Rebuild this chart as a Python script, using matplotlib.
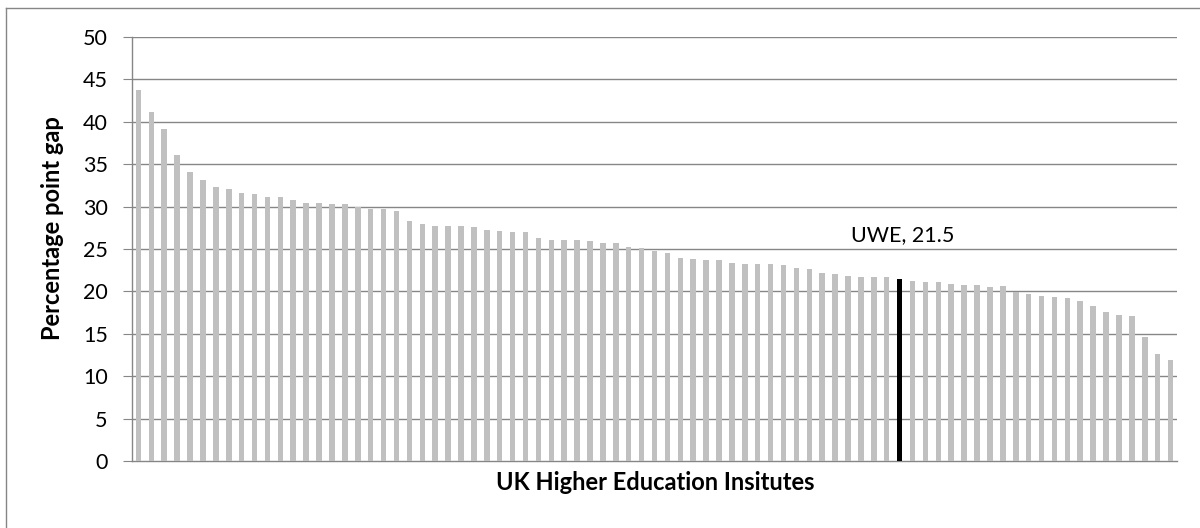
import matplotlib
matplotlib.use("Agg")
import matplotlib.pyplot as plt
from matplotlib.lines import Line2D

plt.rcParams['font.family'] = ['Lato', 'DejaVu Sans']

values = [43.75, 41.16, 39.1, 36.05, 34.04, 33.1, 32.35, 32.04, 31.64, 31.45,
          31.13, 31.13, 30.78, 30.46, 30.46, 30.34, 30.34, 29.92, 29.72, 29.68,
          29.44, 28.34, 27.99, 27.75, 27.75, 27.75, 27.55, 27.24, 27.12, 26.96,
          26.96, 26.34, 26.02, 26.02, 26.02, 25.94, 25.75, 25.67, 25.24, 25.16,
          24.8, 24.55, 23.97, 23.78, 23.66, 23.66, 23.39, 23.27, 23.19, 23.19,
          23.07, 22.8, 22.64, 22.2, 22.05, 21.85, 21.7, 21.7, 21.7, 21.5,
          21.2, 21.07, 21.07, 20.87, 20.75, 20.75, 20.56, 20.6, 19.89, 19.69,
          19.46, 19.34, 19.18, 18.87, 18.28, 17.57, 17.25, 17.06, 14.58, 12.58,
          11.87]
highlight_index = 59
highlight_label = "UWE, 21.5"
yticks = [0, 5, 10, 15, 20, 25, 30, 35, 40, 45, 50]

W, H = 1200, 528
fig = plt.figure(figsize=(W / 100, H / 100), dpi=100)
ax = fig.add_axes([132 / W, 1 - 461 / H, (1177 - 132) / W, (461 - 37) / H])

n = len(values)
x = list(range(n))
colors = ['#000000' if i == highlight_index else '#C0C0C0' for i in x]
ax.bar(x, values, width=0.43, color=colors, zorder=3)

ax.set_xlim(-0.5, n - 0.5)
ax.set_ylim(0, 50)
ax.set_yticks(yticks)
ax.set_yticklabels([str(v) for v in yticks], fontsize=15.5)
ax.set_xticks([])
for yv in yticks[1:]:
    ax.axhline(yv, color='#868686', lw=1.0, zorder=1)

for s in ['top', 'right']:
    ax.spines[s].set_visible(False)
ax.spines['left'].set_color('#868686')
ax.spines['bottom'].set_color('#868686')
ax.spines['left'].set_linewidth(1.0)
ax.spines['bottom'].set_linewidth(1.0)
ax.tick_params(axis='y', direction='out', length=6.5, color='#868686', pad=11)

ax.set_ylabel("Percentage point gap", fontsize=17, fontweight='bold')
ax.yaxis.set_label_coords((53 - 132) / (1177 - 132), (461 - 228) / (461 - 37))
ax.set_xlabel("UK Higher Education Insitutes", fontsize=17, fontweight='bold')
ax.xaxis.set_label_coords((655 - 132) / (1177 - 132), -(483 - 461) / (461 - 37))
ax.xaxis.label.set_va('center')
ax.yaxis.label.set_va('center')

ax.text(highlight_index + 0.27, values[highlight_index] + 5.15, highlight_label,
        fontsize=15.5, ha='center', va='center')

# outer chart border (top and left visible)
fig.add_artist(Line2D([6 / W, 1], [1 - 8 / H, 1 - 8 / H], color='#868686', lw=1.0,
                      transform=fig.transFigure))
fig.add_artist(Line2D([6 / W, 6 / W], [0, 1 - 8 / H], color='#868686', lw=1.0,
                      transform=fig.transFigure))

fig.savefig("out.png", dpi=100)
